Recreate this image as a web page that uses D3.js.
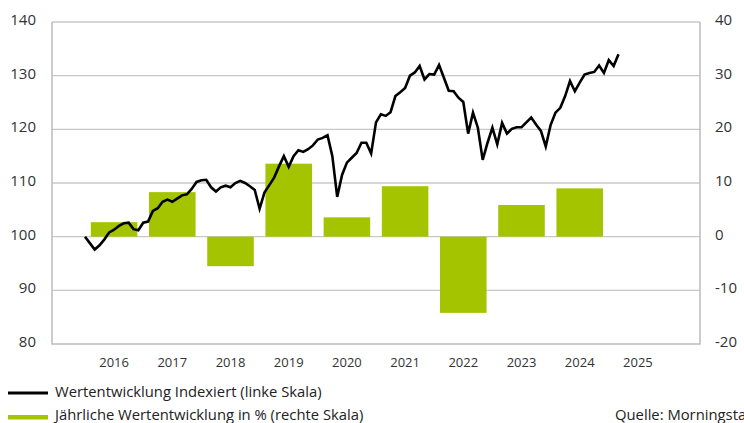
<!DOCTYPE html>
<html>
<head>
<meta charset="utf-8">
<script src="https://cdn.jsdelivr.net/npm/d3@7"></script>
<style>
body { margin: 0; background: #fff; }
text { font-family: "Open Sans", "Noto Sans", sans-serif; }
</style>
</head>
<body>
<script>
// years shown on the x axis and the yearly returns (right axis, %)
var years = [2016, 2017, 2018, 2019, 2020, 2021, 2022, 2023, 2024, 2025];
var yearlyReturn = [2.7, 8.3, -5.5, 13.6, 3.6, 9.4, -14.2, 5.9, 9.0, null];

// monthly indexed value (left axis), starting Jan 2016 = 100
var indexValues = [
    100.0, 98.8, 97.6, 98.4, 99.5, 100.8, 101.3, 102.0, 102.5, 102.6, 101.4, 101.2,
    102.6, 102.8, 104.8, 105.3, 106.5, 106.9, 106.5, 107.1, 107.7, 107.9, 108.9, 110.2,
    110.5, 110.6, 109.2, 108.4, 109.2, 109.5, 109.2, 110.0, 110.4, 110.0, 109.4, 108.7,
    105.2, 108.2, 109.6, 111.0, 113.1, 115.0, 113.0, 115.0, 116.1, 115.8, 116.3, 117.0,
    118.1, 118.4, 118.9, 115.0, 107.4, 111.5, 113.8, 114.7, 115.6, 117.5, 117.5, 115.5,
    121.3, 122.8, 122.5, 123.2, 126.2, 126.9, 127.7, 130.0, 130.6, 131.8, 129.3, 130.3,
    130.2, 132.0, 129.6, 127.2, 127.1, 125.9, 125.1, 119.2, 123.1, 120.3, 114.3, 117.5,
    120.3, 117.2, 121.2, 119.2, 120.1, 120.4, 120.4, 121.3, 122.2, 120.9, 119.7, 116.8,
    120.8, 123.1, 124.0, 126.2, 129.0, 127.1, 128.7, 130.2, 130.5, 130.7, 131.9, 130.5,
    132.9, 131.8, 134.0
];

var leftTicks = [80, 90, 100, 110, 120, 130, 140];
var rightTicks = [-20, -10, 0, 10, 20, 30, 40];

var legendLabels = ["Wertentwicklung Indexiert (linke Skala)",
                    "Jährliche Wertentwicklung in % (rechte Skala)"];
var sourceLabel = "Quelle: Morningstar";

var w = 744;
var h = 423;
var plotLeft = 52, plotRight = 700, plotTop = 22, plotBottom = 344;
var green = "#a5c400";
var gridColor = "#c8c8c8";

var svg = d3.select("body")
    .append("svg")
    .attr("width", w)
    .attr("height", h);

var x = d3.scaleLinear()
    .domain([2015.433, 2026.567])
    .range([plotLeft, plotRight]);

var yLeft = d3.scaleLinear()
    .domain([80, 140])
    .range([plotBottom, plotTop]);

var yRight = d3.scaleLinear()
    .domain([-20, 40])
    .range([plotBottom, plotTop]);

// gridlines
svg.selectAll("line.grid")
    .data(leftTicks.slice(1))
    .enter()
    .append("line")
    .attr("class", "grid")
    .attr("x1", plotLeft)
    .attr("x2", plotRight)
    .attr("y1", function(d){ return yLeft(d); })
    .attr("y2", function(d){ return yLeft(d); })
    .attr("stroke", gridColor)
    .attr("stroke-width", 1.3);

// bars
svg.selectAll("rect.bar")
    .data(years.filter(function(d, i){ return yearlyReturn[i] !== null; }))
    .enter()
    .append("rect")
    .attr("class", "bar")
    .attr("x", function(d){ return x(d + 0.1); })
    .attr("width", function(d){ return x(d + 0.9) - x(d + 0.1); })
    .attr("y", function(d){
        var v = yearlyReturn[years.indexOf(d)];
        return yRight(Math.max(v, 0));
    })
    .attr("height", function(d){
        var v = yearlyReturn[years.indexOf(d)];
        return Math.abs(yRight(v) - yRight(0));
    })
    .attr("fill", green);

// frame: left, right, bottom
svg.append("path")
    .attr("d", "M" + plotLeft + "," + plotTop + "V" + plotBottom + "H" + plotRight + "V" + plotTop)
    .attr("fill", "none")
    .attr("stroke", "#bcbcbc")
    .attr("stroke-width", 1.5);

// index line
var line = d3.line()
    .x(function(d, i){ return x(2016 + i / 12); })
    .y(function(d){ return yLeft(d); });

svg.append("path")
    .datum(indexValues)
    .attr("d", line)
    .attr("fill", "none")
    .attr("stroke", "#000")
    .attr("stroke-width", 2.6)
    .attr("stroke-linejoin", "miter");

// left axis labels
svg.selectAll("text.yl")
    .data(leftTicks)
    .enter()
    .append("text")
    .attr("class", "yl")
    .text(function(d){ return d; })
    .attr("x", 36)
    .attr("y", function(d){ return yLeft(d) + 3; })
    .attr("text-anchor", "end")
    .attr("font-size", "15px")
    .attr("fill", "#333");

// right axis labels
svg.selectAll("text.yr")
    .data(rightTicks)
    .enter()
    .append("text")
    .attr("class", "yr")
    .text(function(d){ return d; })
    .attr("x", 715)
    .attr("y", function(d){ return yRight(d) + 3; })
    .attr("text-anchor", "start")
    .attr("font-size", "15px")
    .attr("fill", "#333");

// x labels
svg.selectAll("text.xl")
    .data(years)
    .enter()
    .append("text")
    .attr("class", "xl")
    .text(function(d){ return d; })
    .attr("x", function(d){ return x(d + 0.5); })
    .attr("y", 366.5)
    .attr("text-anchor", "middle")
    .attr("font-size", "13px")
    .attr("fill", "#333");

// legend
svg.append("line")
    .attr("x1", 8).attr("x2", 48)
    .attr("y1", 393).attr("y2", 393)
    .attr("stroke", "#000")
    .attr("stroke-width", 3);

svg.append("rect")
    .attr("x", 8).attr("y", 415)
    .attr("width", 40).attr("height", 4.5)
    .attr("fill", green);

svg.selectAll("text.leg")
    .data(legendLabels)
    .enter()
    .append("text")
    .attr("class", "leg")
    .text(function(d){ return d; })
    .attr("x", 55)
    .attr("y", function(d, i){ return 397 + i * 23; })
    .attr("font-size", "14.8px")
    .attr("fill", "#222");

svg.append("text")
    .text(sourceLabel)
    .attr("x", 615)
    .attr("y", 420)
    .attr("font-size", "14.8px")
    .attr("fill", "#222");
</script>
</body>
</html>
